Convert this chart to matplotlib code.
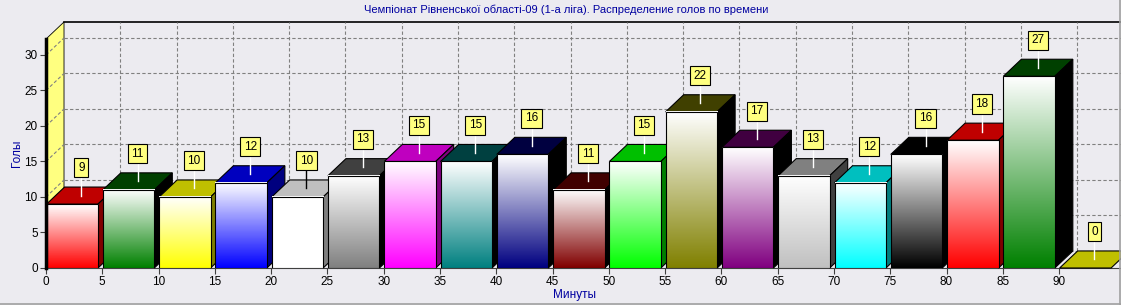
import numpy as np
import matplotlib.pyplot as plt
import matplotlib.colors as mcolors
from matplotlib.patches import Polygon, Rectangle
from matplotlib.lines import Line2D

plt.rcParams['font.family'] = ['Liberation Sans', 'DejaVu Sans']

title = 'Чемпіонат Рівненської області-09 (1-а ліга). Распределение голов по времени'
interval_start = [0, 5, 10, 15, 20, 25, 30, 35, 40, 45, 50, 55, 60, 65, 70, 75, 80, 85, 90]
goals = [9, 11, 10, 12, 10, 13, 15, 15, 16, 11, 15, 22, 17, 13, 12, 16, 18, 27, 0]
bar_colors = ['#FF0000', '#008000', '#FFFF00', '#0000FF', '#FFFFFF', '#808080',
              '#FF00FF', '#008080', '#000080', '#800000', '#00FF00', '#808000',
              '#800080', '#C0C0C0', '#00FFFF', '#000000', '#FF0000', '#008000',
              '#FFFF00']
x_ticks = list(range(0, 95, 5))
y_ticks = list(range(0, 35, 5))

BG = '#ECEBF0'
BLUE = '#0000A0'
W, H = 1121, 305

# pixel layout of the front plane
fig = plt.figure(figsize=(W / 100, H / 100), dpi=100, facecolor=BG)
ax = fig.add_axes([46 / W, (H - 268) / H, (W - 46) / W, (268 - 39) / H])
xmax, ymax = 95.5, 32.25
DX, DY = 1.6, 2.4   # 3d depth offset in data units


def shade(c, amt):
    rgb = np.array(mcolors.to_rgb(c)) * 255
    return tuple(np.clip(rgb - amt, 0, 255) / 255)


grid_kw = dict(color='#808080', lw=0.8, linestyle=(0, (3, 2)), clip_on=False, zorder=1)

# left wall
ax.add_patch(Polygon([(0, 0), (DX, DY), (DX, ymax + DY), (0, ymax)], closed=True,
                     fc='#FFFF80', ec='black', lw=0.6, clip_on=False, zorder=0.8))
# back wall top edge
ax.plot([DX, xmax + DX], [ymax + DY, ymax + DY], color='black', lw=1.2, clip_on=False, zorder=1)

# grid on walls
for yv in y_ticks:
    ax.plot([0, DX], [yv, yv + DY], **grid_kw)
    ax.plot([DX, xmax + DX], [yv + DY, yv + DY], **grid_kw)
for xv in x_ticks[1:]:
    ax.plot([xv + DX, xv + DX], [DY, ymax + DY], **grid_kw)

# bars
z = 2
for x0, v, c in zip(interval_start, goals, bar_colors):
    left, right = x0 + 0.05, x0 + 4.62
    ax.add_patch(Polygon([(left, v), (right, v), (right + DX, v + DY), (left + DX, v + DY)],
                         closed=True, fc=shade(c, 64), ec='black', lw=0.8,
                         clip_on=False, zorder=z))
    if v > 0:
        ax.add_patch(Polygon([(right, 0), (right + DX, DY), (right + DX, v + DY), (right, v)],
                             closed=True, fc=shade(c, 128), ec='black', lw=0.8,
                             clip_on=False, zorder=z + 0.1))
        t = np.linspace(0, 1, 100)[:, None, None]
        img = (1 - t) * np.ones(3) + t * np.array(mcolors.to_rgb(c))
        ax.imshow(img, extent=[left, right, 0, v], origin='upper', aspect='auto',
                  interpolation='bilinear', zorder=z + 0.2)
        ax.add_patch(Rectangle((left, 0), right - left, v, fill=False, ec='black',
                               lw=0.8, zorder=z + 0.3))
    z += 1

# marks
for x0, v, c in zip(interval_start, goals, bar_colors):
    cx = x0 + 0.05 + (4.57 / 2) + DX / 2
    y0 = v + DY / 2
    line_c = 'black' if mcolors.to_hex(c).lower() == '#ffffff' else 'white'
    ax.plot([cx, cx], [y0, y0 + 2.8], color=line_c, lw=1, clip_on=False, zorder=50)
    ax.text(cx, y0 + 3.9, str(v), ha='center', va='center', fontsize=8.5, zorder=51,
            bbox=dict(boxstyle='square,pad=0.3', fc='#FFFF80', ec='black', lw=0.8))

ax.set_xlim(0, xmax)
ax.set_ylim(0, ymax)
ax.patch.set_visible(False)
for s in ['top', 'right']:
    ax.spines[s].set_visible(False)
ax.spines['left'].set_color('black')
ax.spines['left'].set_linewidth(2.5)
ax.spines['left'].set_zorder(60)
ax.spines['bottom'].set_color('#404040')
ax.spines['bottom'].set_linewidth(0.8)
ax.set_xticks(x_ticks)
ax.set_yticks(y_ticks)
ax.tick_params(direction='out', length=4, width=0.8, color='#404040', labelsize=8.5, pad=2)

ax.set_xlabel('Минуты', color=BLUE, fontsize=8.5)
ax.xaxis.set_label_coords(0.492, -0.092)
ax.set_ylabel('Голы', color=BLUE, fontsize=8.5)
ax.yaxis.set_label_coords(-0.021, 0.5)

fig.text(566 / W, 1 - 10 / H, title, ha='center', va='center', color=BLUE, fontsize=8)

# panel bevel
fig.add_artist(Line2D([0, 1], [1.5 / H, 1.5 / H], color='#A0A0A0', lw=1.2))
fig.add_artist(Line2D([1 - 1.5 / W, 1 - 1.5 / W], [0, 1], color='#A0A0A0', lw=1.2))

fig.savefig('out.png', dpi=100, facecolor=BG)
